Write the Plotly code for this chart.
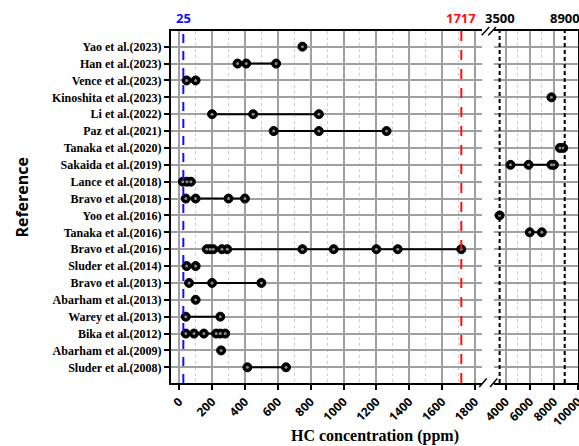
import plotly.graph_objects as go

# Studies, listed bottom to top
references = [
    "Sluder et al.(2008)", "Abarham et al.(2009)", "Bika et al.(2012)",
    "Warey et al.(2013)", "Abarham et al.(2013)", "Bravo et al.(2013)",
    "Sluder et al.(2014)", "Bravo et al.(2016)", "Tanaka et al.(2016)",
    "Yoo et al.(2016)", "Bravo et al.(2018)", "Lance et al.(2018)",
    "Sakaida et al.(2019)", "Tanaka et al.(2020)", "Paz et al.(2021)",
    "Li et al.(2022)", "Kinoshita et al.(2023)", "Vence et al.(2023)",
    "Han et al.(2023)", "Yao et al.(2023)",
]

# HC concentrations (ppm) reported by each study
hc_values = {
    "Sluder et al.(2008)": [415, 650],
    "Abarham et al.(2009)": [255],
    "Bika et al.(2012)": [40, 90, 150, 225, 250, 280],
    "Warey et al.(2013)": [40, 250],
    "Abarham et al.(2013)": [100],
    "Bravo et al.(2013)": [60, 200, 500],
    "Sluder et al.(2014)": [45, 100],
    "Bravo et al.(2016)": [168, 188, 208, 260, 292, 750, 940, 1200, 1330, 1717],
    "Tanaka et al.(2016)": [6000, 7000],
    "Yoo et al.(2016)": [3500],
    "Bravo et al.(2018)": [40, 100, 300, 400],
    "Lance et al.(2018)": [22, 47, 71],
    "Sakaida et al.(2019)": [4400, 5900, 7800, 8000],
    "Tanaka et al.(2020)": [8500, 8780],
    "Paz et al.(2021)": [575, 850, 1262],
    "Li et al.(2022)": [200, 450, 850],
    "Kinoshita et al.(2023)": [7800],
    "Vence et al.(2023)": [45, 100],
    "Han et al.(2023)": [355, 408, 590],
    "Yao et al.(2023)": [750],
}

# Reference levels drawn as dashed vertical lines: (value, colour, dash, axis)
ref_lines = [
    (25, "#1010ff", "9px,8px", "x"),
    (1717, "#ff1010", "10px,9px", "x"),
    (3500, "black", "4px,3px", "x2"),
    (8900, "black", "4px,3px", "x2"),
]

left_range = [-50, 1840]
right_range = [3000, 10005]
left_ticks = list(range(0, 1801, 200))
right_ticks = [4000, 6000, 8000, 10000]

W, H = 579, 446
M = dict(l=171, r=1, t=31, b=63)
pw = W - M["l"] - M["r"]
ph = H - M["t"] - M["b"]
split_left = (481.5 - M["l"]) / pw
split_right = (493.6 - M["l"]) / pw

fig = go.Figure()

ball = dict(size=9, color="black", line=dict(color="black", width=1))
shine = dict(size=3, color="#8a8a8a", line=dict(width=0))

for ref in references:
    vals = sorted(hc_values[ref])
    left = [v for v in vals if v <= left_range[1]]
    right = [v for v in vals if v >= right_range[0]]
    for pts, xa, ya in ((left, "x", "y"), (right, "x2", "y2")):
        if pts:
            fig.add_trace(go.Scatter(
                x=pts, y=[ref] * len(pts), xaxis=xa, yaxis=ya,
                mode="lines+markers", line=dict(color="black", width=2),
                marker=ball, showlegend=False, hoverinfo="x+y",
            ))
            fig.add_trace(go.Scatter(
                x=pts, y=[ref] * len(pts), xaxis=xa, yaxis=ya,
                mode="markers", marker=shine, showlegend=False, hoverinfo="skip",
            ))

grid_major = "#a0a0a0"
grid_minor = "#cfcfcf"
tickfont = dict(family="Open Sans", size=12, color="black", weight="bold")
yr = [-0.93, len(references) - 1 + 0.93]

fig.update_layout(
    width=W, height=H, margin=M,
    paper_bgcolor="white", plot_bgcolor="white",
    showlegend=False,
    xaxis=dict(
        domain=[0, split_left], range=left_range,
        tickvals=left_ticks, ticktext=[str(t) for t in left_ticks],
        tickangle=-45, tickfont=tickfont, automargin=False,
        showgrid=True, gridcolor=grid_major, gridwidth=1.5,
        minor=dict(dtick=100, tick0=0, showgrid=True, gridcolor=grid_minor,
                   griddash="dot", gridwidth=1),
        showline=True, linecolor="black", linewidth=2, mirror=True,
        ticks="outside", ticklen=5, tickwidth=1.5, tickcolor="black",
        zeroline=False, anchor="y",
    ),
    xaxis2=dict(
        domain=[split_right, 1], range=right_range,
        tickvals=right_ticks, ticktext=[str(t) for t in right_ticks],
        tickangle=-45, tickfont=tickfont, automargin=False,
        ticklabeloverflow="allow",
        showgrid=True, gridcolor=grid_major, gridwidth=1.5,
        minor=dict(dtick=1000, tick0=0, showgrid=True, gridcolor=grid_minor,
                   griddash="dot", gridwidth=1),
        showline=True, linecolor="black", linewidth=2, mirror=True,
        ticks="outside", ticklen=5, tickwidth=1.5, tickcolor="black",
        zeroline=False, anchor="y2",
    ),
    yaxis=dict(
        type="category", categoryorder="array", categoryarray=references,
        range=yr, anchor="x", automargin=False,
        tickfont=dict(family="Liberation Serif", size=12, color="black", weight="bold"),
        showgrid=True, gridcolor=grid_major, gridwidth=1.5,
        showline=True, linecolor="black", linewidth=2, mirror=False,
        ticks="outside", ticklen=5, tickwidth=1.5, tickcolor="black",
        zeroline=False,
    ),
    yaxis2=dict(
        type="category", categoryorder="array", categoryarray=references,
        range=yr, anchor="x2", side="right", matches="y", automargin=False,
        showticklabels=False,
        showgrid=True, gridcolor=grid_major, gridwidth=1.5,
        showline=True, linecolor="black", linewidth=2, mirror=False,
        ticks="", zeroline=False,
    ),
)

# Dashed reference lines with their values above the frame
for val, col, dash, xa in ref_lines:
    fig.add_shape(type="line", xref=xa, yref="paper", x0=val, x1=val, y0=0, y1=1,
                  line=dict(color=col, width=2, dash=dash), layer="above")
    fig.add_annotation(x=val, xref=xa, y=1, yref="paper", yanchor="bottom",
                       yshift=2, text=f"<b>{val}</b>", showarrow=False,
                       font=dict(family="Open Sans", size=13, color=col))

# Axis break marks
bx = (487.5 - M["l"]) / pw
for yb, segs in ((1, [(-5.8, -4.3, 1.8, 4), (0.8, -4.3, 8.5, 4)]),
                 (0, [(-8.2, -4, -0.8, 4.4), (2.5, -4, 9.8, 4.4)])):
    for x0, y0, x1, y1 in segs:
        fig.add_shape(type="line", xref="paper", yref="paper",
                      xsizemode="pixel", ysizemode="pixel",
                      xanchor=bx, yanchor=yb, x0=x0, x1=x1, y0=y0, y1=y1,
                      line=dict(color="black", width=1.5))

# Axis titles
fig.add_annotation(x=0.5, xref="paper", y=0, yref="paper", yanchor="middle",
                   yshift=-(436 - (M["t"] + ph)), text="<b>HC concentration (ppm)</b>",
                   showarrow=False,
                   font=dict(family="Liberation Serif", size=16, color="black"))
fig.add_annotation(x=0, xref="paper", xanchor="center", xshift=-(M["l"] - 22),
                   y=1, yref="paper", yanchor="middle", yshift=-(197.6 - M["t"]),
                   text="<b>Reference</b>", textangle=-90, showarrow=False,
                   font=dict(family="Open Sans", size=16, color="black"))

fig.write_html("out.html")
